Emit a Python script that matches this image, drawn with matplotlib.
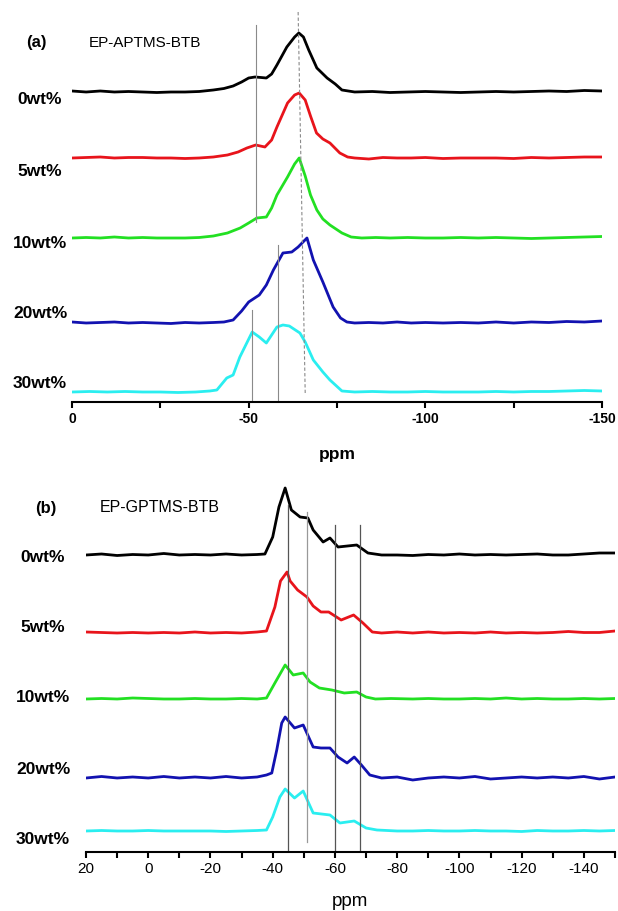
import matplotlib
matplotlib.use("Agg")
import matplotlib.pyplot as plt
from matplotlib.ticker import MultipleLocator

plt.rcParams['font.family'] = ['Liberation Sans', 'DejaVu Sans']
plt.rcParams['axes.unicode_minus'] = False

W, H = 618, 911

labels = ['0wt%', '5wt%', '10wt%', '20wt%', '30wt%']
colors = ['#000000', '#e8141b', '#22e022', '#1212b0', '#2aeef0']

# ---- panel (a): EP-APTMS-BTB ----
ppm_a_0 = [0, -4, -8, -12, -16, -20, -24, -28, -32, -36, -40, -43, -45.6, -48, -50, -51.8, -53.5, -55, -56.5,
           -58, -60.8, -63, -64.2, -65.5, -67, -69.3, -72.2, -74.5, -76.4, -80, -85, -90, -95, -100, -105,
           -110, -115, -120, -125, -130, -135, -140, -145, -150]
int_a_0 = [1, 0, 1, 0, 0.5, 0, -0.5, 0, 0, 0.5, 2, 3.5, 6, 10, 14, 15, 14.5, 14, 18,
           27, 45, 55, 59, 55, 42, 24, 14, 8, 2, 0, 0.5, -0.5, 0, 0.5, 0,
           -0.5, 0, 0.5, 0, 0.5, 1, 0.5, 1.5, 1]
ppm_a_5 = [0, -4, -8, -12, -16, -20, -24, -28, -32, -36, -40, -44, -47, -49.5, -52, -54.6, -56.5, -58, -61,
           -63, -64.3, -66, -67.5, -69.2, -71, -73, -75.8, -78, -80, -84, -88, -92, -96, -100, -105, -110,
           -115, -120, -125, -130, -135, -140, -145, -150]
int_a_5 = [0, 0.5, 1, 0, 0.5, 0.5, 0, 0, -0.5, 0, 1, 3, 6, 10, 13, 11, 18, 31, 55,
           63, 65, 58, 42, 25, 19, 15, 5, 1, 0, -1, 0.5, 0, 0, 0.5, -0.5, 0,
           0, 0, -0.5, 0.5, 0, 0.5, 1, 1]
ppm_a_10 = [0, -4, -8, -12, -16, -20, -24, -28, -32, -36, -40, -44, -47.6, -50, -52.3, -55, -56.5, -58, -61,
            -63, -64.3, -66, -67.5, -69.3, -71, -73, -76.4, -79, -82, -86, -90, -95, -100, -105, -110, -115,
            -120, -125, -130, -135, -140, -145, -150]
int_a_10 = [0, 0.5, 0, 1, 0, 0.5, 0, 0, 0, 0.5, 2, 5, 10, 15, 20, 21, 30, 43, 61,
            74, 80, 62, 43, 28, 19, 13, 5, 1, 0, 0.5, 0, 0.5, 0, 0, 0.5, 0,
            0.5, 0, -0.5, 0, 0.5, 1, 1.5]
ppm_a_20 = [0, -4, -8, -12, -16, -20, -24, -28, -32, -36, -40, -43, -45.6, -48, -50, -53, -55, -57, -59.7,
            -62.2, -64, -66.5, -68.3, -71, -73.9, -76, -77.8, -80, -84, -88, -92, -96, -100, -105, -110,
            -115, -120, -125, -130, -135, -140, -145, -150]
int_a_20 = [1, 0, 0.5, 1, 0, 0.5, 0, -0.5, 0.5, 0, 0.5, 1, 3, 12, 21, 28, 38, 53, 70,
            71, 76, 85, 63, 41, 16, 5, 1, 0, 0.5, 0, 1, 0, 0.5, 0, 0.5,
            0, 1, 0, 1, 0.5, 1.5, 1, 2]
ppm_a_30 = [0, -5, -10, -15, -20, -25, -30, -35, -39, -41, -43.8, -45.6, -47.5, -51, -53, -55, -58, -59.7,
            -61.5, -64.5, -66, -68.3, -71, -73, -76.4, -80, -85, -90, -95, -100, -105, -110, -115, -120,
            -125, -130, -135, -140, -145, -150]
int_a_30 = [0, 0.5, 0, 0.5, 0, 0, -0.5, 0, 1, 2, 14, 17, 35, 60, 55, 49, 65, 67,
            66, 59, 50, 32, 20, 12, 1, 0, 0.5, 0, 0, 0.5, 0, 0, 0, 0.5,
            0, 0.5, 0.5, 1, 1.5, 1]
offsets_a = [310, 244, 164, 79, 10]

# reference lines (a): ppm at top/bottom, intensity at top/bottom
ref_a_ppm = [(-52, -52), (-64, -66), (-58.3, -58.3), (-51, -51)]
ref_a_y = [(377, 180), (390, 9), (157, 0), (92, 0)]
ref_a_style = ['-', '--', '-', '-']

# ---- panel (b): EP-GPTMS-BTB ----
ppm_b_0 = [20, 15, 10, 5, 0, -5, -10, -15, -20, -25, -30, -35, -37.5, -40, -42, -44, -46, -48.8, -51.3, -53,
           -56.2, -58.4, -61, -64, -67, -70.6, -75, -80, -85, -90, -95, -100, -105, -110, -115, -120,
           -125, -130, -135, -140, -145, -150]
int_b_0 = [0, 1, -0.5, 0.5, 0, 1.5, 0, 0.5, 0, 1, 0, 0.5, 1, 18, 48, 67, 45, 38, 37, 25,
           13, 17, 8, 9, 10, 2, 0, 0, -0.5, 0.5, 0, 1, 0, 0.5, 0, 0.5,
           1, 0, 0, 1, 2, 2]
ppm_b_5 = [20, 15, 10, 5, 0, -5, -10, -15, -20, -25, -30, -35, -38, -40.7, -42.5, -44.6, -45.6, -48, -51,
           -53, -55.5, -58, -62, -66, -69, -72, -75, -80, -85, -90, -95, -100, -105, -110, -115, -120,
           -125, -130, -135, -140, -145, -150]
int_b_5 = [1, 0.5, 0, 0.5, 0, 0.5, 0, 1, 0, 0.5, 0, 1, 2, 26, 52, 61, 52, 43, 36,
           27, 21, 21, 13, 18, 10, 1, 0, 1, 0, 1, 0, 0.5, 0, 1, 0, 0.5,
           0, 0.5, 1.5, 0.5, 0.5, 2]
ppm_b_10 = [20, 15, 10, 5, 0, -5, -10, -15, -20, -25, -30, -35, -38, -40.7, -44, -46.6, -49.8, -52, -55,
            -59, -63, -67, -70, -73, -78, -85, -90, -95, -100, -105, -110, -115, -120, -125, -130, -135,
            -140, -145, -150]
int_b_10 = [0, 0.5, 0, 1, 0.5, 0, 0, 0.5, 0, 0, 0.5, 0, 1, 16, 34, 24, 26, 17, 11,
            9, 6, 7, 2, 0, 0.5, 0, 0.5, 0, 0, 0.5, 0, 1, 0, 0.5, 0, 0,
            0.5, 0, 0.5]
ppm_b_20 = [20, 15, 10, 5, 0, -5, -10, -15, -20, -25, -30, -35, -38, -39.7, -41.3, -42.9, -44, -47, -49.8,
            -53, -55.5, -58.4, -61, -63.9, -66.2, -68.5, -71.2, -75, -80, -85, -90, -95, -100, -105, -110,
            -115, -120, -125, -130, -135, -140, -145, -150]
int_b_20 = [0, 1.5, 0, 1, 0, 1.5, 0, 1, 0, 1.5, 0, 1, 3, 5, 28, 55, 61, 50, 53,
            31, 30, 30, 21, 15, 21, 13, 3, 0, 1, -2, 0, 1, 0, 1.5, -1,
            0, 1, 0, 1, 0, 1.5, -1, 1]
ppm_b_30 = [20, 15, 10, 5, 0, -5, -10, -15, -20, -25, -30, -35, -38, -40, -42.3, -44, -47, -49.8, -53,
            -58.4, -61.6, -66.2, -70, -73.5, -80, -85, -90, -95, -100, -105, -110, -115, -120, -125, -130,
            -135, -140, -145, -150]
int_b_30 = [0, 0.5, 0, 0, 0.5, 0, 0, 0, 0, -0.5, 0, 0.5, 1, 14, 34, 42, 33, 40, 18,
            16, 8, 10, 3, 1, 0, 0, 0.5, 0, 0, 0.5, 0, 0, -0.5, 0.5, 0,
            0, 0.5, 0, 0.5]
offsets_b = [297, 219, 153, 74, 21]

ref_b_ppm = [(-45, -45), (-51, -51), (-60, -60), (-68, -68)]
ref_b_y = [(347, 0), (340, 10), (327, 0), (327, 0)]
ref_b_colors = ['#555555', '#999999', '#555555', '#555555']


def fx(px):
    return px / W


def fy(py):
    return 1 - py / H


fig = plt.figure(figsize=(W / 100, H / 100), dpi=100)

# ---- (a)
ax = fig.add_axes([fx(72), fy(402), fx(602 - 72), (402 - 10) / H])
series_a = [(ppm_a_0, int_a_0), (ppm_a_5, int_a_5), (ppm_a_10, int_a_10),
            (ppm_a_20, int_a_20), (ppm_a_30, int_a_30)]
for (p, v), off, c in zip(series_a, offsets_a, colors):
    ax.plot(p, [off + i for i in v], color=c, lw=2.0, solid_joinstyle='round')
for (p0, p1), (y0, y1), ls in zip(ref_a_ppm, ref_a_y, ref_a_style):
    ax.plot([p0, p1], [y0, y1], color='#8a8a8a', lw=0.8, ls=ls, dashes=(3, 2) if ls == '--' else (None, None))
ax.set_xlim(0, -150)
ax.set_ylim(0, 392)
for s in ['left', 'top', 'right']:
    ax.spines[s].set_visible(False)
ax.spines['bottom'].set_linewidth(1.5)
ax.set_yticks([])
ax.xaxis.set_major_locator(MultipleLocator(50))
ax.xaxis.set_minor_locator(MultipleLocator(25))
ax.tick_params(axis='x', which='both', direction='out', length=4, width=1.5, pad=3)
ax.set_xticks([0, -50, -100, -150])
ax.set_xticklabels(['0', '-50', '-100', '-150'], fontsize=10, fontweight='bold')
fig.text(fx(337), fy(455), 'ppm', fontsize=12.5, fontweight='bold', ha='center', va='center')
fig.text(fx(36), fy(43), '(a)', fontsize=12, fontweight='bold', ha='center', va='center')
fig.text(fx(89), fy(43), 'EP-APTMS-BTB', fontsize=11, ha='left', va='center')
for lab, py in zip(labels, [100, 172, 243, 313, 383]):
    fig.text(fx(40), fy(py), lab, fontsize=12.5, fontweight='bold', ha='center', va='center')

# ---- (b)
ax2 = fig.add_axes([fx(86), fy(852), fx(615 - 86), (852 - 470) / H])
series_b = [(ppm_b_0, int_b_0), (ppm_b_5, int_b_5), (ppm_b_10, int_b_10),
            (ppm_b_20, int_b_20), (ppm_b_30, int_b_30)]
for (p, v), off, c in zip(series_b, offsets_b, colors):
    ax2.plot(p, [off + i for i in v], color=c, lw=2.0, solid_joinstyle='round')
for (p0, p1), (y0, y1), c in zip(ref_b_ppm, ref_b_y, ref_b_colors):
    ax2.plot([p0, p1], [y0, y1], color=c, lw=0.9)
ax2.set_xlim(20, -150)
ax2.set_ylim(0, 382)
for s in ['left', 'top', 'right']:
    ax2.spines[s].set_visible(False)
ax2.spines['bottom'].set_linewidth(1.5)
ax2.set_yticks([])
ax2.xaxis.set_major_locator(MultipleLocator(20))
ax2.xaxis.set_minor_locator(MultipleLocator(10))
ax2.tick_params(axis='x', which='both', direction='out', length=4, width=1.5, pad=3, labelsize=11)
fig.text(fx(350), fy(902), 'ppm', fontsize=13.5, ha='center', va='center')
fig.text(fx(46), fy(508), '(b)', fontsize=12, fontweight='bold', ha='center', va='center')
fig.text(fx(100), fy(508), 'EP-GPTMS-BTB', fontsize=11.5, ha='left', va='center')
for lab, py in zip(labels, [557, 628, 698, 769, 840]):
    fig.text(fx(43), fy(py), lab, fontsize=12.5, fontweight='bold', ha='center', va='center')

plt.savefig("out.png", dpi=100)
